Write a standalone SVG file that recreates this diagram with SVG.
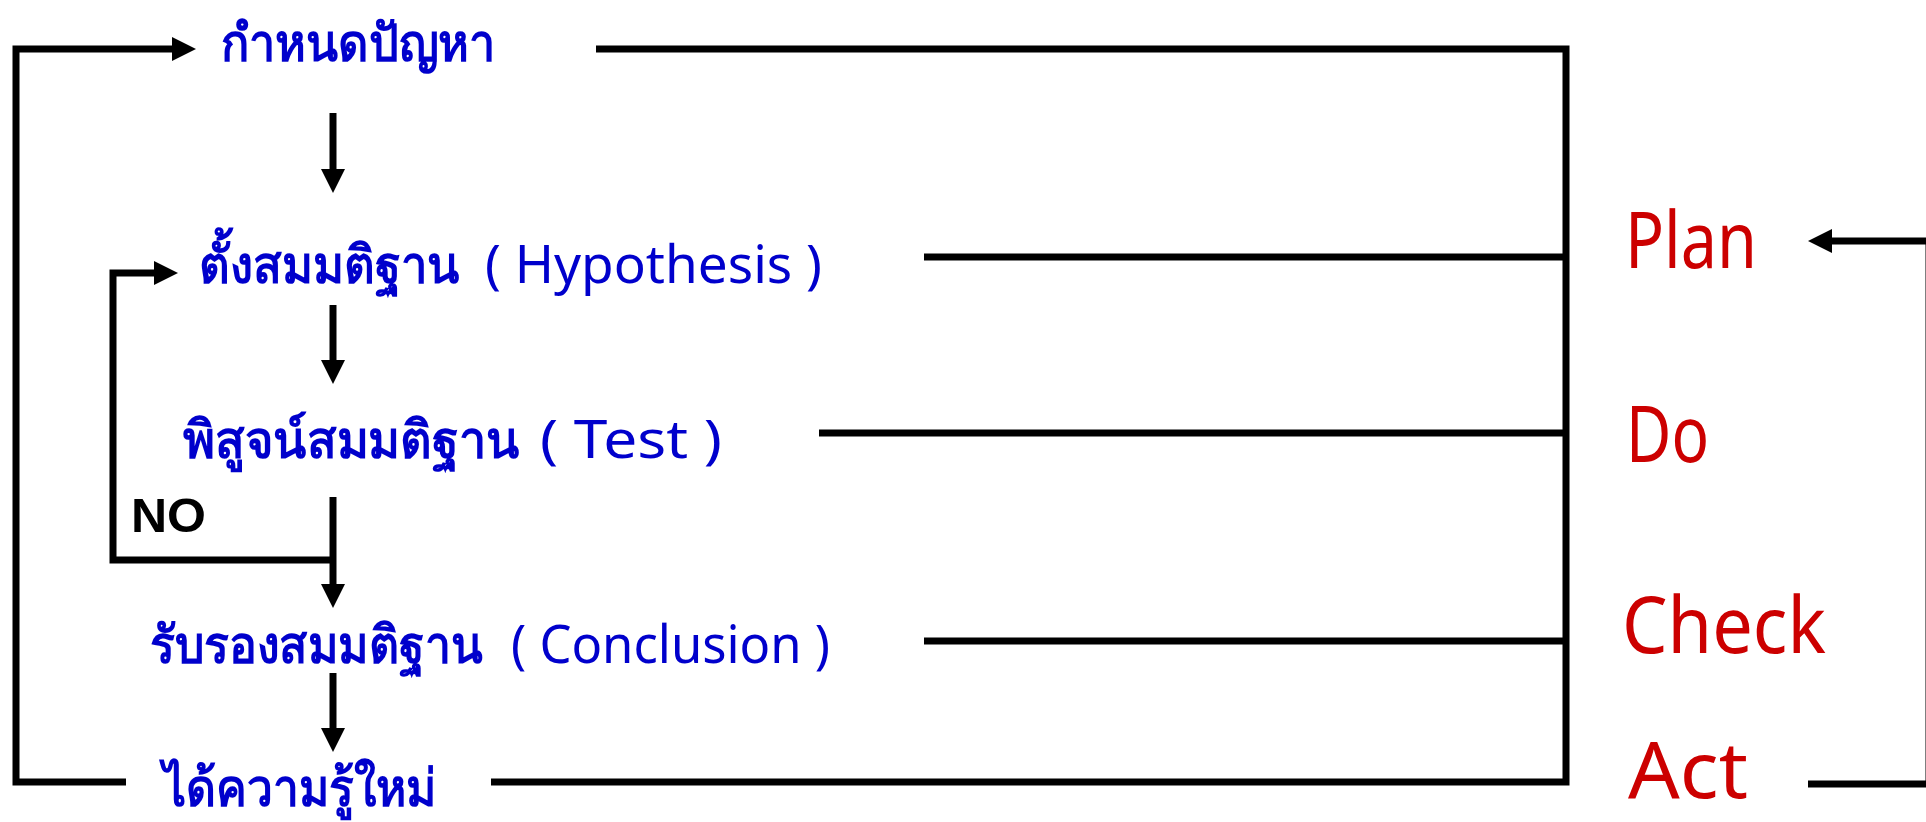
<svg xmlns="http://www.w3.org/2000/svg" width="1926" height="822" viewBox="0 0 1926 822">
<style>
.ln{fill:none;stroke:#000;stroke-width:7;stroke-linejoin:miter;stroke-linecap:butt}
.th{font-family:"Noto Sans","DejaVu Sans",sans-serif;fill:#0000CC;font-size:52px;font-weight:bold}
.lt{font-family:"Comic Sans MS","Noto Sans","DejaVu Sans",sans-serif;font-size:52px;font-weight:normal}
.pd{font-family:"Comic Sans MS","Noto Sans","DejaVu Sans",sans-serif;fill:#CC0000;font-size:78px}
.no{font-family:"Comic Sans MS","Liberation Sans",sans-serif;font-weight:bold;font-size:48px;fill:#000}
</style>
<defs>
<marker id="ah" markerUnits="userSpaceOnUse" markerWidth="24" markerHeight="24" refX="0" refY="12" orient="auto">
<path d="M0,0 L24,12 L0,24 z" fill="#000"/>
</marker>
</defs>
<rect width="1926" height="822" fill="#fff"/>
<g id="connectors">
<path class="ln" d="M126,782 H16 V49 H172" marker-end="url(#ah)"/>
<path class="ln" d="M596,49 H1566 V782 H491"/>
<path class="ln" d="M924,257 H1566"/>
<path class="ln" d="M819,433 H1566"/>
<path class="ln" d="M924,641 H1566"/>
<path class="ln" d="M333,113 V169" marker-end="url(#ah)"/>
<path class="ln" d="M333,305 V360" marker-end="url(#ah)"/>
<path class="ln" d="M333,497 V584" marker-end="url(#ah)"/>
<path class="ln" d="M333,673 V728" marker-end="url(#ah)"/>
<path class="ln" d="M333,560 H113 V273 H154" marker-end="url(#ah)"/>
<path class="ln" d="M1808,784 H1929 V241 H1832" marker-end="url(#ah)"/>
</g>
<g id="n-define"><text class="th" x="221" y="61" textLength="274" lengthAdjust="spacingAndGlyphs">กำหนดปัญหา</text></g>
<g id="n-hypothesis"><text class="th" y="283"><tspan x="199" textLength="261" lengthAdjust="spacingAndGlyphs">ตั้งสมมติฐาน</tspan><tspan class="lt" x="485" textLength="337" lengthAdjust="spacingAndGlyphs">( Hypothesis )</tspan></text></g>
<g id="n-test"><text class="th" y="458"><tspan x="183" textLength="337" lengthAdjust="spacingAndGlyphs">พิสูจน์สมมติฐาน</tspan><tspan class="lt" x="540" textLength="182" lengthAdjust="spacingAndGlyphs">( Test )</tspan></text></g>
<g id="n-conclusion"><text class="th" y="663"><tspan x="150" textLength="333" lengthAdjust="spacingAndGlyphs">รับรองสมมติฐาน</tspan><tspan class="lt" x="511" textLength="319" lengthAdjust="spacingAndGlyphs">( Conclusion )</tspan></text></g>
<g id="n-knowledge"><text class="th" x="163" y="806" textLength="273" lengthAdjust="spacingAndGlyphs">ได้ความรู้ใหม่</text></g>
<g id="n-no"><text class="no" x="131" y="532" textLength="75" lengthAdjust="spacingAndGlyphs">NO</text></g>
<g id="n-plan"><text class="pd" x="1625" y="268" textLength="132" lengthAdjust="spacingAndGlyphs">Plan</text></g>
<g id="n-do"><text class="pd" x="1626" y="462" textLength="83" lengthAdjust="spacingAndGlyphs">Do</text></g>
<g id="n-check"><text class="pd" x="1622" y="653" textLength="204" lengthAdjust="spacingAndGlyphs">Check</text></g>
<g id="n-act"><text class="pd" x="1628" y="798" textLength="120" lengthAdjust="spacingAndGlyphs">Act</text></g>
</svg>
